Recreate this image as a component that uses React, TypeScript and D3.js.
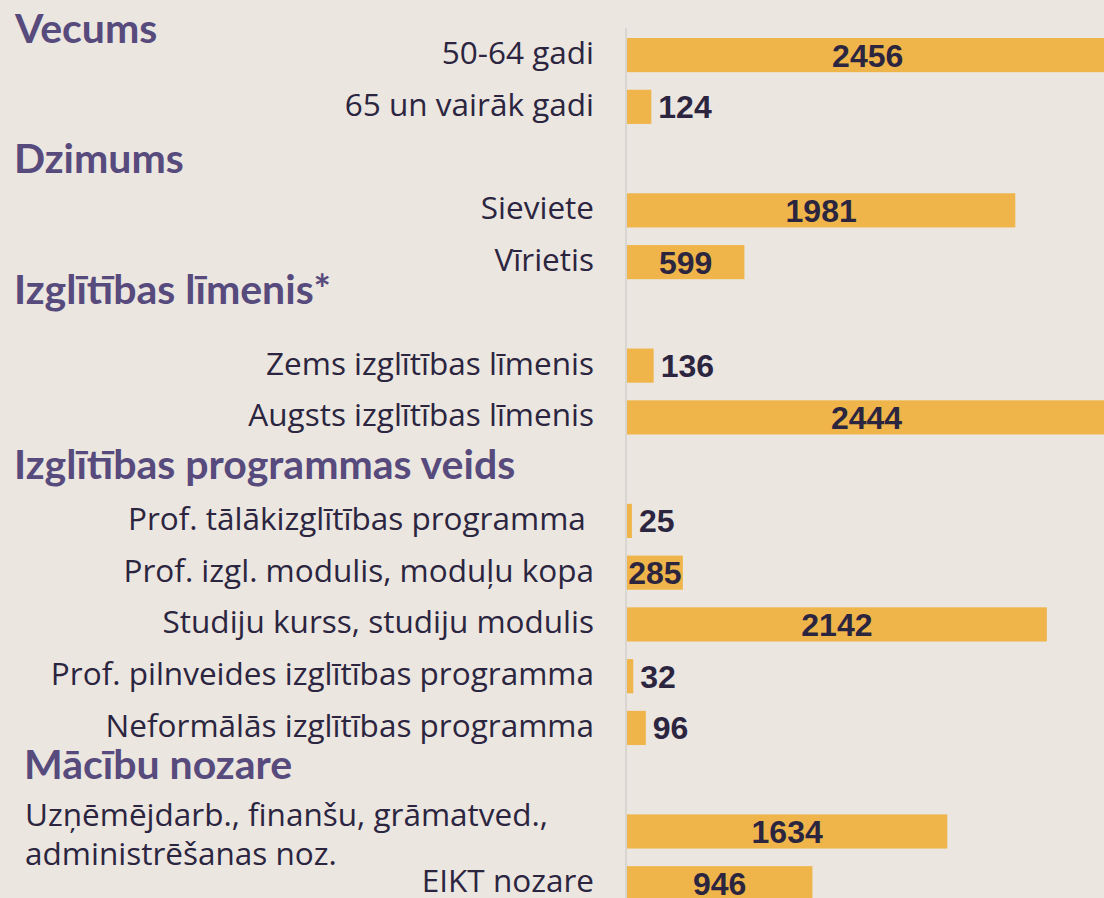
import React from "react";
import * as d3 from "d3";

const categories = [
  "50-64 gadi",
  "65 un vairāk gadi",
  "Sieviete",
  "Vīrietis",
  "Zems izglītības līmenis",
  "Augsts izglītības līmenis",
  "Prof. tālākizglītības programma\u00A0",
  "Prof. izgl. modulis, moduļu kopa",
  "Studiju kurss, studiju modulis",
  "Prof. pilnveides izglītības programma",
  "Neformālās izglītības programma",
  "Uzņēmējdarb., finanšu, grāmatved., administrēšanas noz.",
  "EIKT nozare",
];
const values = [2456, 124, 1981, 599, 136, 2444, 25, 285, 2142, 32, 96, 1634, 946];
const groupOf = [0, 0, 1, 1, 2, 2, 3, 3, 3, 3, 3, 4, 4];
const groups = [
  "Vecums",
  "Dzimums",
  "Izglītības līmenis*",
  "Izglītības programmas veids",
  "Mācību nozare",
];
const wrappedLabels: Record<number, string[]> = {
  11: ["Uzņēmējdarb., finanšu, grāmatved.,", "administrēšanas noz."],
};

// layout
const W = 1104;
const H = 898;
const BG = "#ebe6e0";
const BAR = "#efb54a";
const TEXT = "#2b2540";
const HEAD = "#574a7c";
const HEADER_X = [15, 14, 14, 14, 24];
const HEADER_Y = [43, 173, 304, 479, 779];
const LABEL_FONT = "'Open Sans', 'Noto Sans', sans-serif";
const HEAD_FONT = "Lato, 'Open Sans', sans-serif";
const VALUE_FONT = "'Liberation Sans', Arial, sans-serif";
const LABEL_SIZE = 31.5;

export default function App() {
  const slots: string[] = [];
  categories.forEach((c, i) => {
    if (i > 0 && groupOf[i] !== groupOf[i - 1]) slots.push("gap-" + groupOf[i]);
    slots.push(c);
  });

  const y = d3
    .scaleBand<string>()
    .domain(slots)
    .range([29.2, 909.1])
    .paddingInner(0.34)
    .paddingOuter(0.17);
  const x = d3.scaleLinear().domain([0, 2500]).range([627, 1117]);

  const valueSize = 32;
  const digitW = valueSize * 0.556;

  return (
    <div style={{ position: "fixed", left: 0, top: 0, width: W, height: H }}>
      <svg width={W} height={H} style={{ display: "block" }}>
        <rect x={0} y={0} width={W} height={H} fill={BG} />
        <line x1={626} x2={626} y1={28} y2={H} stroke="#d9d5d0" strokeWidth={2} />
        {groups.map((g, i) => (
          <text
            key={g}
            x={HEADER_X[i]}
            y={HEADER_Y[i]}
            fill={HEAD}
            fontFamily={HEAD_FONT}
            fontWeight={700}
            fontSize={41}
          >
            {g}
          </text>
        ))}
        {categories.map((c, i) => {
          const by = y(c)!;
          const bh = y.bandwidth();
          const cy = by + bh / 2;
          const x0 = x(0);
          const x1 = x(values[i]);
          const bw = x1 - x0;
          const label = String(values[i]);
          const lw = label.length * digitW;
          const inside = lw <= bw + 3;
          const wrap = wrappedLabels[i];
          return (
            <g key={c}>
              <rect x={x0} y={by} width={bw} height={bh} fill={BAR} />
              {wrap ? (
                wrap.map((line, j) => (
                  <text
                    key={j}
                    x={25}
                    y={cy - 5.5 + j * 39}
                    fill={TEXT}
                    fontFamily={LABEL_FONT}
                    fontSize={LABEL_SIZE}
                  >
                    {line}
                  </text>
                ))
              ) : (
                <text
                  x={594}
                  y={cy + 9}
                  textAnchor="end"
                  fill={TEXT}
                  fontFamily={LABEL_FONT}
                  fontSize={LABEL_SIZE}
                  style={{ whiteSpace: "pre" }}
                >
                  {c}
                </text>
              )}
              <text
                x={inside ? (x0 + x1) / 2 : x1 + 7}
                y={cy + valueSize * 0.358}
                textAnchor={inside ? "middle" : "start"}
                fill={TEXT}
                fontFamily={VALUE_FONT}
                fontWeight={700}
                fontSize={valueSize}
              >
                {label}
              </text>
            </g>
          );
        })}
      </svg>
    </div>
  );
}
